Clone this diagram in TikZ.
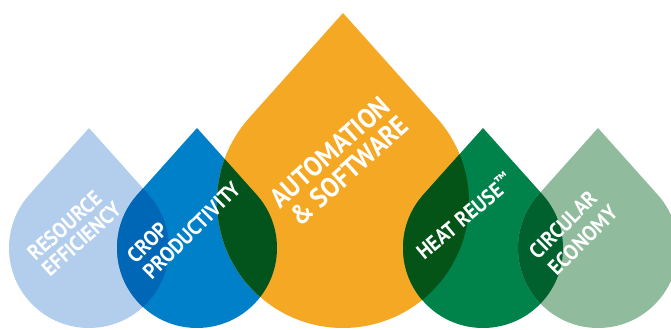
\documentclass[tikz,border=0pt]{standalone}
\usepackage{fontspec}
\setmainfont{PT Sans}[FakeStretch=0.92]
\definecolor{lblue}{RGB}{179,206,236}
\definecolor{dblue}{RGB}{0,128,200}
\definecolor{orng}{RGB}{245,168,35}
\definecolor{grn}{RGB}{0,130,75}
\definecolor{sage}{RGB}{144,187,156}
\definecolor{ovA}{RGB}{0,103,183}
\definecolor{ovB}{RGB}{3,84,28}
\definecolor{ovC}{RGB}{3,84,22}
\definecolor{ovD}{RGB}{0,96,46}
\newcommand\droppath[3]{([shift={(138.19:#3)}]#1,#2) arc[start angle=138.19,end angle=401.81,radius=#3] -- (#1,#2+1.5*#3) -- cycle}
\tikzset{
  lbl/.style={text=white, inner sep=0pt, anchor=west, font=\bfseries\fontsize{21.5}{24}\selectfont},
  biglbl/.style={lbl, font=\bfseries\fontsize{27.5}{30}\selectfont}
}
\begin{document}
\begin{tikzpicture}[x=1pt,y=1pt]
\useasboundingbox (0,0) rectangle (671,329);
\clip (0,0) rectangle (671,329);
% drops
\fill[lblue] \droppath{89}{81}{80};
\fill[dblue] \droppath{197}{81}{80};
\fill[orng] \droppath{343}{127}{126};
\fill[grn] \droppath{483}{81}{80};
\fill[sage] \droppath{598}{81}{80};
% overlaps
\begin{scope}
  \clip \droppath{89}{81}{80};
  \fill[ovA] \droppath{197}{81}{80};
\end{scope}
\begin{scope}
  \clip \droppath{197}{81}{80};
  \fill[ovB] \droppath{343}{127}{126};
\end{scope}
\begin{scope}
  \clip \droppath{343}{127}{126};
  \fill[ovC] \droppath{483}{81}{80};
\end{scope}
\begin{scope}
  \clip \droppath{483}{81}{80};
  \fill[ovD] \droppath{598}{81}{80};
\end{scope}
% labels
\node[lbl, rotate=42] (res1) at (30.5,72.5) {RESOURCE};
\node[lbl, rotate=42] (res2) at (45,57) {EFFICIENCY};
\node[lbl, rotate=45] (crop1) at (130.5,70) {CROP};
\node[lbl, rotate=45] (crop2) at (146.5,53.5) {PRODUCTIVITY};
\node[biglbl, rotate=42] (aut1) at (273.8,126.5) {AUTOMATION};
\node[biglbl, rotate=42] (aut2) at (293.8,108.6) {\& SOFTWARE};
\node[lbl, rotate=40] (heat) at (418.5,75) {HEAT REUSE\textsuperscript{™}};
\node[lbl, rotate=45] (circ1) at (532.5,73.5) {CIRCULAR};
\node[lbl, rotate=45] (circ2) at (551.5,57.5) {ECONOMY};
\end{tikzpicture}
\end{document}
